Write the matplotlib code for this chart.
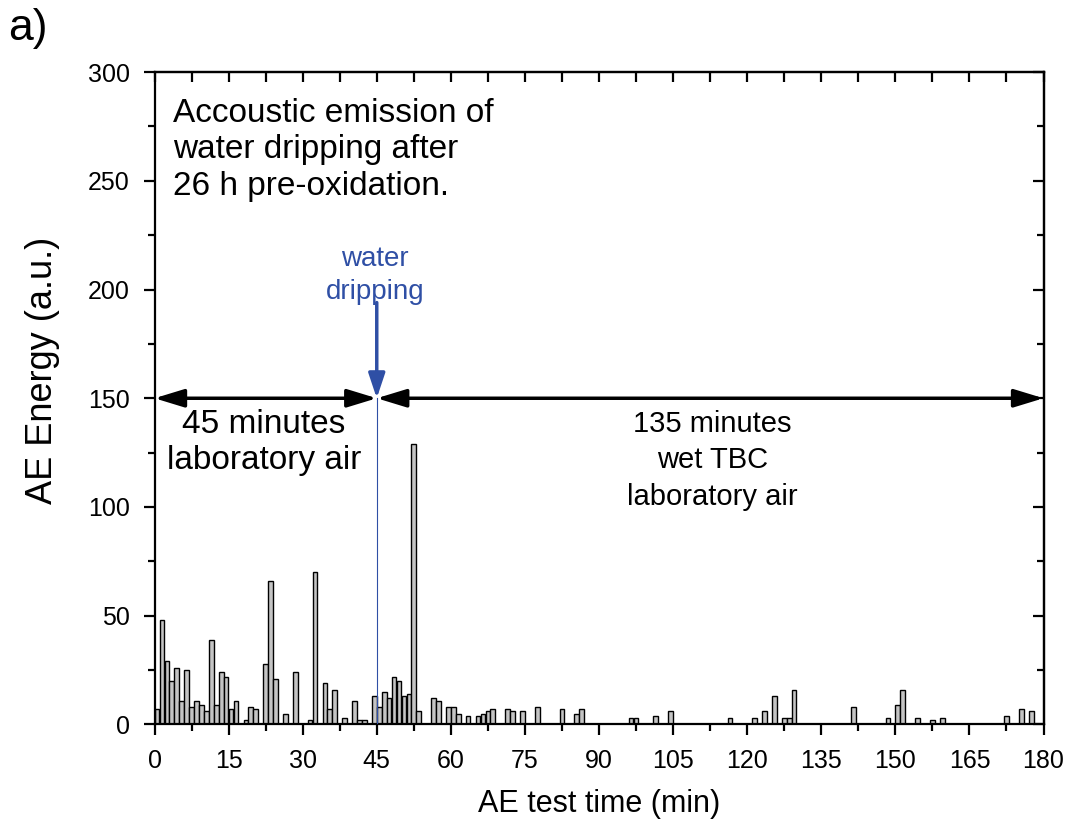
import numpy as np
import matplotlib.pyplot as plt
from matplotlib.ticker import MultipleLocator

plt.rcParams['font.family'] = ['Liberation Sans', 'DejaVu Sans']

# AE energy per one-minute bin (only the non-empty bins)
minutes = [0, 1, 2, 3, 4, 5, 6, 7, 8, 9, 10, 11, 12, 13, 14, 15, 16, 18, 19, 20,
           22, 23, 24, 26, 28, 31, 32, 34, 35, 36, 38, 40, 41, 42, 44, 45, 46, 47,
           48, 49, 50, 51, 52, 53, 56, 57, 59, 60, 61, 63, 65, 66, 67, 68, 71, 72,
           74, 77, 82, 85, 86, 96, 97, 101, 104, 116, 121, 123, 125, 127, 128, 129,
           141, 148, 150, 151, 154, 157, 159, 172, 175, 177]
energy = [7, 48, 29, 20, 26, 11, 25, 8, 11, 9, 6, 39, 9, 24, 22, 7, 11, 2, 8, 7,
          28, 66, 21, 5, 24, 2, 70, 19, 7, 16, 3, 11, 2, 2, 13, 8, 15, 12,
          22, 20, 13, 14, 129, 6, 12, 11, 8, 8, 5, 4, 4, 5, 6, 7, 7, 6,
          6, 8, 7, 5, 7, 3, 3, 4, 6, 3, 3, 6, 13, 3, 3, 16,
          8, 3, 9, 16, 3, 2, 3, 4, 7, 6]

t_drip = 45
t_end = 180
arrow_level = 150

blue = '#2f4fa5'

fig = plt.figure(figsize=(10.67, 8.26), dpi=100)
ax = fig.add_axes([0.1448, 0.1229, 0.8332, 0.7899])

ax.bar(np.array(minutes) + 0.5, energy, width=0.95, color='#c4c4c4',
       edgecolor='black', linewidth=1.0, zorder=2)

# moment of water dripping
ax.plot([t_drip, t_drip], [0, arrow_level], color=blue, lw=0.8, zorder=3)
ax.annotate('', xy=(t_drip, arrow_level), xytext=(t_drip, 194),
            arrowprops=dict(arrowstyle='-|>,head_length=1.5,head_width=0.5',
                            color=blue, lw=2.5, shrinkA=0, shrinkB=0), zorder=4)
ax.text(t_drip - 0.4, 206.5, 'water\ndripping', color=blue, fontsize=20,
        ha='center', va='center', linespacing=1.35)

# time spans
for x0, x1 in [(0, t_drip), (t_drip, t_end)]:
    ax.annotate('', xy=(x1, arrow_level), xytext=(x0, arrow_level),
                arrowprops=dict(arrowstyle='<|-|>,head_length=1.8,head_width=0.55',
                                color='black', lw=2.5, shrinkA=0, shrinkB=0),
                zorder=4)

ax.text(22.2, 129.5, '45 minutes\nlaboratory air', fontsize=24, ha='center',
        va='center', linespacing=1.2)
ax.text(113, 121.5, '135 minutes\nwet TBC\nlaboratory air', fontsize=21,
        ha='center', va='center', linespacing=1.38)

ax.text(3.8, 288, 'Accoustic emission of\nwater dripping after\n26 h pre-oxidation.',
        fontsize=24, ha='left', va='top', linespacing=1.22)

ax.set_xlim(0, t_end)
ax.set_ylim(0, 300)
ax.xaxis.set_major_locator(MultipleLocator(15))
ax.xaxis.set_minor_locator(MultipleLocator(7.5))
ax.yaxis.set_major_locator(MultipleLocator(50))
ax.yaxis.set_minor_locator(MultipleLocator(25))

for sp in ax.spines.values():
    sp.set_linewidth(1.6)

ax.tick_params(which='both', direction='out', width=1.6, labelsize=18,
               top=False, right=False)
ax.tick_params(which='major', length=8, pad=10)
ax.tick_params(which='minor', length=5)

ax.set_xlabel('AE test time (min)', fontsize=22, labelpad=11)
ax.set_ylabel('AE Energy (a.u.)', fontsize=26)
ax.yaxis.set_label_coords(-0.106, 0.542)

# inward ticks on the top and right sides
ax_top = ax.secondary_xaxis('top')
ax_top.set_xticks(np.arange(0, 181, 7.5))
ax_top.tick_params(direction='in', length=7, width=1.6, labeltop=False)
ax_top.spines['top'].set_linewidth(1.6)
ax_right = ax.secondary_yaxis('right')
ax_right.yaxis.set_major_locator(MultipleLocator(50))
ax_right.yaxis.set_minor_locator(MultipleLocator(25))
ax_right.tick_params(which='major', direction='in', length=8, width=1.6, labelright=False)
ax_right.tick_params(which='minor', direction='in', length=5, width=1.6)
ax_right.spines['right'].set_linewidth(1.6)

fig.text(0.008, 0.99, 'a)', fontsize=32, ha='left', va='top')

fig.savefig('out.png', dpi=100)
